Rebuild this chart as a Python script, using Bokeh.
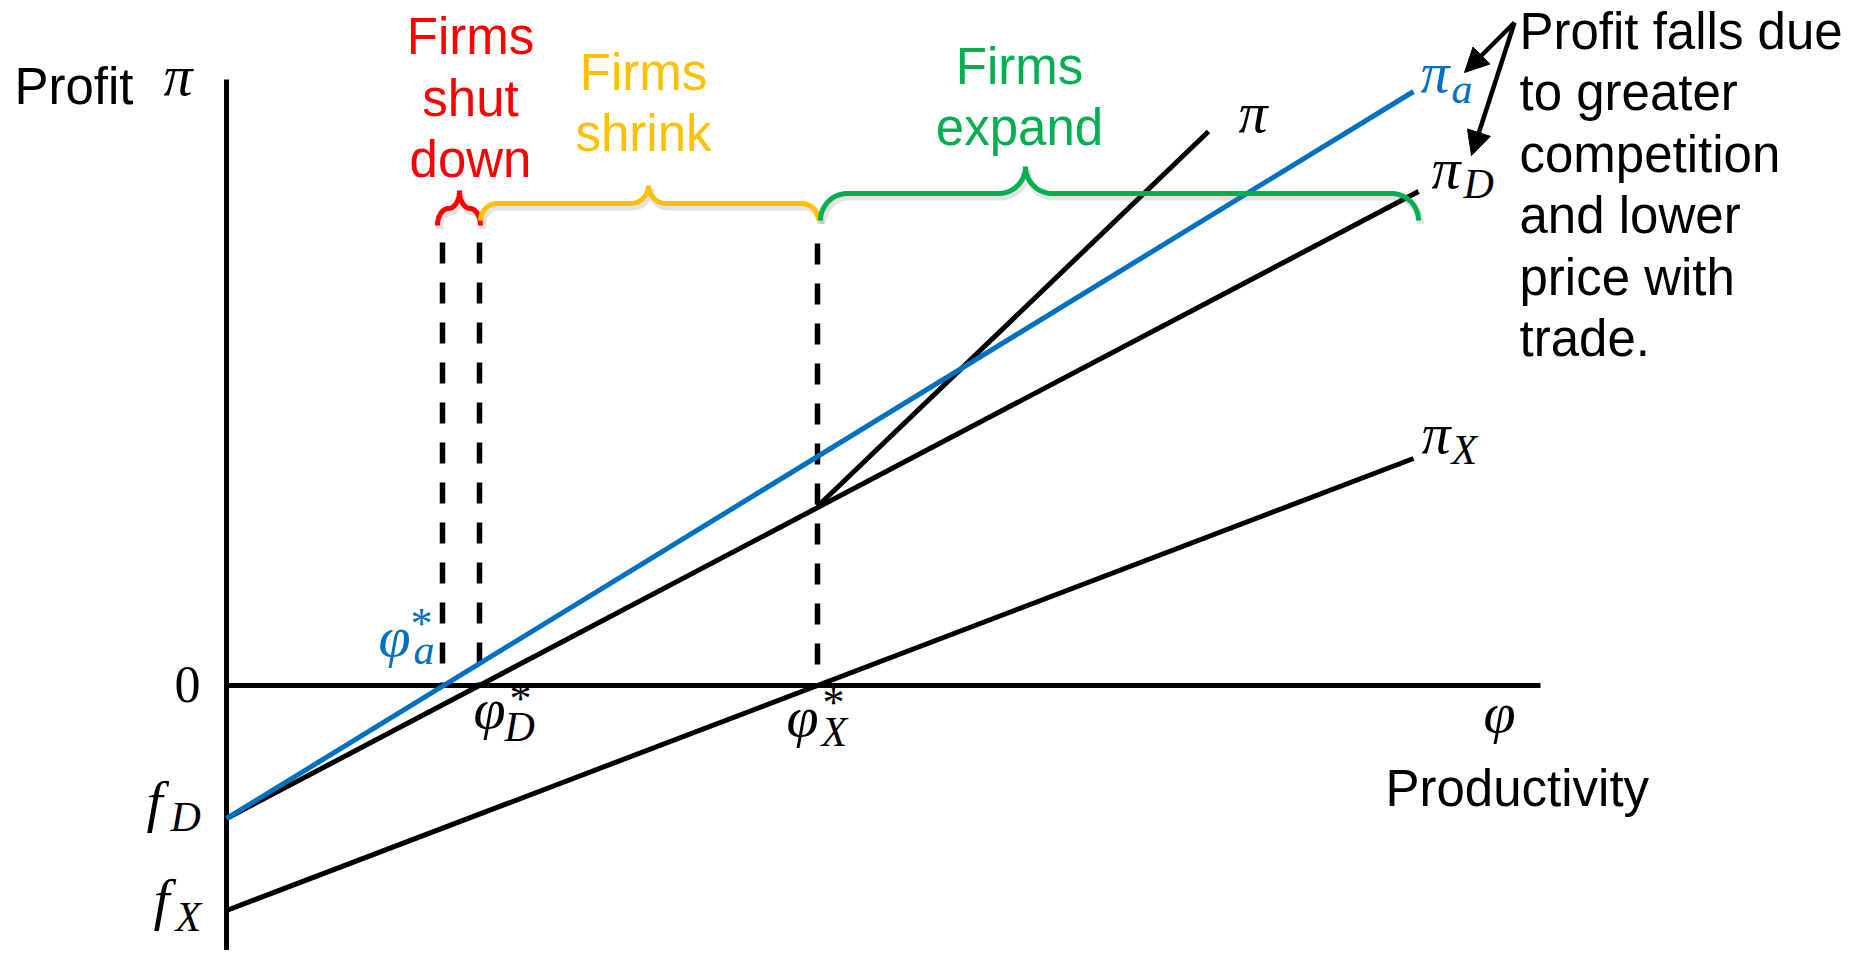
import numpy as np
from bokeh.plotting import figure
from bokeh.models import Range1d, Arrow, NormalHead
from bokeh.core.properties import value
from bokeh.embed import file_html
from bokeh.resources import INLINE

# ---------------- data (abstract units: productivity φ on x, profit π on y) ----------------
cutoffs = [2.16, 2.53, 5.91]            # φ_a*, φ_D*, φ_X*
cutoff_tops = [4.43, 4.43, 4.42]        # top of the dashed guide lines
fixed_costs = [-1.33, -2.25]            # f_D, f_X (intercepts)

pi_a_x = [0.0, 11.87]
pi_a_y = [-1.33, 5.94]
pi_D_x = [0.0, 11.92]
pi_D_y = [-1.33, 4.94]
pi_X_x = [0.0, 11.87]
pi_X_y = [-2.25, 2.27]
pi_x = [5.91, 9.82]
pi_y = [1.79, 5.54]

x_axis_extent = [0.0, 13.14]
y_axis_extent = [-2.90, 6.06]

brace_start = [2.11, 2.54, 5.94]
brace_end = [2.54, 5.92, 11.92]
brace_tip = [2.33, 4.22, 7.99]
brace_texts = [["Firms", "shut", "down"], ["Firms", "shrink"], ["Firms", "expand"]]
note_lines = ["Profit falls due", "to greater", "competition", "and lower", "price with", "trade."]

# ---------------- styles ----------------
BLUE = "#0070C0"
RED = "#FF0000"
YELLOW = "#FFC000"
GREEN = "#00B050"
SANS = "Liberation Sans"
SERIF = "Liberation Serif"
M = 58      # main math symbol size (px)
S = 42      # subscript size (px)
A = 44      # asterisk size (px)

p = figure(width=1848, height=950, output_backend="svg", toolbar_location=None,
           x_range=Range1d(-2.26, 16.22), y_range=Range1d(-2.65, 6.85),
           x_axis_location=None, y_axis_location=None, min_border=0)
p.grid.visible = False
p.outline_line_color = None
p.background_fill_color = "white"
p.border_fill_color = "white"


def txt(x, y, s, size, color="black", font=SANS, style="normal", align="left"):
    # y is the intended alphabetic baseline; compensate the renderer's vertical anchoring
    y_anchor = y + 0.34 * size / 100.0
    p.text(x=[x], y=[y_anchor], text=[s], text_font=value(font), text_font_size=f"{size}px",
           text_font_style=style, text_color=color, text_align=align, text_baseline="alphabetic")


def brace(x0, x1, xm, yb, yh, yt, n=24):
    r1y, r2y = yh - yb, yt - yh
    lw, rw = xm - x0, x1 - xm
    r1x, r2x = min(r1y, lw / 2), min(r2y, lw / 2)
    t = np.linspace(0, np.pi / 2, n)
    ax = x0 + r1x - r1x * np.cos(t)
    ay = yb + r1y * np.sin(t)
    bx = xm - r2x + r2x * np.sin(t)
    by = yh + r2y - r2y * np.cos(t)
    s1x, s2x = min(r1y, rw / 2), min(r2y, rw / 2)
    cx = xm + s2x - s2x * np.cos(t)
    cy = yt - r2y * np.sin(t)
    dx = x1 - s1x + s1x * np.sin(t)
    dy = yh - r1y + r1y * np.cos(t)
    return np.concatenate([ax, bx, cx, dx]), np.concatenate([ay, by, cy, dy])


# ---------------- axes ----------------
p.line(x=x_axis_extent, y=[0, 0], line_color="black", line_width=5)
p.line(x=[0, 0], y=y_axis_extent, line_color="black", line_width=5)

# ---------------- dashed guides ----------------
for cx, top in zip(cutoffs, cutoff_tops):
    p.line(x=[cx, cx], y=[top, 0], line_color="black", line_width=5.5, line_dash="21 19")

# ---------------- profit lines ----------------
p.line(x=pi_X_x, y=pi_X_y, line_color="black", line_width=5)
p.line(x=pi_D_x, y=pi_D_y, line_color="black", line_width=5)
p.line(x=pi_x, y=pi_y, line_color="black", line_width=5)
p.line(x=pi_a_x, y=pi_a_y, line_color=BLUE, line_width=5)

# ---------------- braces ----------------
brace_levels = [(4.60, 4.77, 4.95), (4.65, 4.82, 5.00), (4.65, 4.92, 5.19)]
brace_colors = [RED, YELLOW, GREEN]
for x0, x1, xm, (yb, yh, yt), col in zip(brace_start, brace_end, brace_tip, brace_levels, brace_colors):
    bx, by = brace(x0, x1, xm, yb, yh, yt)
    p.line(x=bx + 0.02, y=by - 0.035, line_color="#7f7f7f", line_width=7, line_alpha=0.22)
    p.line(x=bx, y=by, line_color=col, line_width=5)

# brace texts
text_centres = [2.44, 4.17, 7.93]
text_tops = [6.315, 5.96, 6.02]
for lines, cxx, ty, col in zip(brace_texts, text_centres, text_tops, brace_colors):
    for i, s in enumerate(lines):
        txt(cxx, ty - 0.615 * i, s, 51, color=col, align="center")

# ---------------- arrows ----------------
head = dict(size=24, fill_color="black", line_color="black", line_width=1)
p.add_layout(Arrow(end=NormalHead(**head), x_start=12.88, y_start=6.63, x_end=12.38, y_end=6.13,
                   line_width=4.5, line_color="black"))
p.add_layout(Arrow(end=NormalHead(**head), x_start=12.88, y_start=6.63, x_end=12.45, y_end=5.30,
                   line_width=4.5, line_color="black"))

# note text
for i, s in enumerate(note_lines):
    txt(12.93, 6.37 - 0.615 * i, s, 51)

# ---------------- axis labels ----------------
txt(-2.12, 5.82, "Profit", 51)
txt(-0.63, 5.90, "π", M, font=SERIF, style="italic")
txt(11.59, -1.20, "Productivity", 51)
txt(12.57, -0.47, "φ", M, font=SERIF, style="italic")
txt(-0.39, -0.17, "0", 52, font=SERIF, align="center")

# intercepts
txt(-0.80, fixed_costs[0] - 0.03, "f", M, font=SERIF, style="italic")
txt(-0.56, fixed_costs[0] - 0.13, "D", S, font=SERIF, style="italic")
txt(-0.73, fixed_costs[1] - 0.09, "f", M, font=SERIF, style="italic")
txt(-0.51, fixed_costs[1] - 0.21, "X", S, font=SERIF, style="italic")

# cutoff labels
txt(1.52, 0.29, "φ", M, color=BLUE, font=SERIF, style="italic")
txt(1.87, 0.21, "a", S, color=BLUE, font=SERIF, style="italic")
txt(1.95, 0.47, "*", A, color=BLUE, font=SERIF, align="center")

txt(2.47, -0.43, "φ", M, font=SERIF, style="italic")
txt(2.78, -0.56, "D", S, font=SERIF, style="italic")
txt(2.94, -0.28, "*", A, font=SERIF, align="center")

txt(5.60, -0.51, "φ", M, font=SERIF, style="italic")
txt(5.95, -0.61, "X", S, font=SERIF, style="italic")
txt(6.07, -0.32, "*", A, font=SERIF, align="center")

# line labels
txt(10.12, 5.53, "π", M, font=SERIF, style="italic")
txt(11.94, 5.93, "π", M, color=BLUE, font=SERIF, style="italic")
txt(12.25, 5.82, "a", S, color=BLUE, font=SERIF, style="italic")
txt(12.05, 4.97, "π", M, font=SERIF, style="italic")
txt(12.37, 4.87, "D", S, font=SERIF, style="italic")
txt(11.95, 2.32, "π", M, font=SERIF, style="italic")
txt(12.25, 2.21, "X", S, font=SERIF, style="italic")

open("out.html", "w").write(file_html(p, INLINE))
